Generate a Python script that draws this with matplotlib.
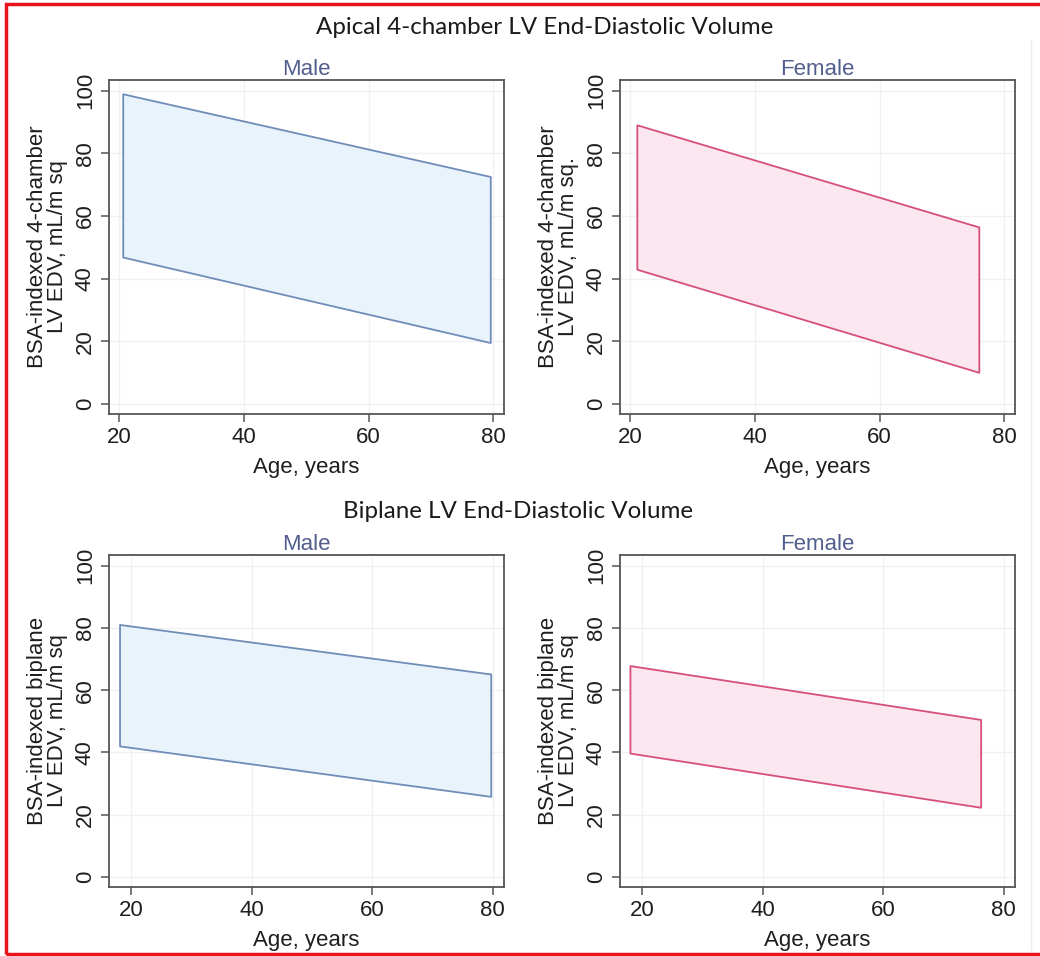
import matplotlib.pyplot as plt
from matplotlib.patches import Rectangle

# reference bands (start and end of each band)
male_4ch_age = [20.6, 79.5]
male_4ch_upper = [99.0, 72.6]
male_4ch_lower = [46.9, 19.6]

female_4ch_age = [21.1, 75.9]
female_4ch_upper = [89.1, 56.5]
female_4ch_lower = [43.0, 10.1]

male_bp_age = [18.1, 79.7]
male_bp_upper = [81.1, 65.2]
male_bp_lower = [42.1, 25.9]

female_bp_age = [18.0, 76.2]
female_bp_upper = [67.9, 50.6]
female_bp_lower = [39.8, 22.4]

x_ticks = [20, 40, 60, 80]
y_ticks = [0, 20, 40, 60, 80, 100]

W, H = 1040, 956
plt.rcParams['font.family'] = ['Liberation Sans', 'DejaVu Sans']

fig = plt.figure(figsize=(W / 100, H / 100), dpi=100)
fig.patch.set_facecolor('white')

BLUE_LINE, BLUE_FILL = '#6f8db8', '#e8f3fb'
PINK_LINE, PINK_FILL = '#d64f7c', '#fce7f0'


def make_axes(left, top, right, bottom):
    return fig.add_axes([left / W, 1 - bottom / H, (right - left) / W, (bottom - top) / H])


def panel(ax, age, lower, upper, line, fill, title, ylabel, xlim):
    ax.fill_between(age, lower, upper, facecolor=fill, edgecolor=line, linewidth=1.3)
    ax.set_xlim(*xlim)
    ax.set_ylim(-3.2, 103.4)
    ax.set_xticks(x_ticks)
    ax.set_yticks(y_ticks)
    ax.grid(True, color='#f0f1f4', linewidth=1.0)
    ax.set_axisbelow(True)
    for s in ax.spines.values():
        s.set_color('#555555')
        s.set_linewidth(1.3)
    ax.tick_params(colors='#555555', labelcolor='#1e1e1e', labelsize=16, length=6, width=1.1)
    for lab in ax.get_yticklabels():
        lab.set_rotation(90)
        lab.set_va('center')
    ax.set_title(title, color='#525e8e', fontsize=16, pad=3)
    ax.set_xlabel('Age, years', fontsize=16, color='#1e1e1e', labelpad=6)
    ax.set_ylabel(ylabel, fontsize=16, color='#1e1e1e', linespacing=0.92, labelpad=5)


ax1 = make_axes(109, 80, 504, 414)
panel(ax1, male_4ch_age, male_4ch_lower, male_4ch_upper, BLUE_LINE, BLUE_FILL, 'Male',
      'BSA-indexed 4-chamber\nLV EDV, mL/m sq', (18.4, 81.7))

ax2 = make_axes(620, 80, 1015, 414)
panel(ax2, female_4ch_age, female_4ch_lower, female_4ch_upper, PINK_LINE, PINK_FILL, 'Female',
      'BSA-indexed 4-chamber\nLV EDV, mL/m sq.', (18.4, 81.7))

ax3 = make_axes(109, 555, 504, 887)
panel(ax3, male_bp_age, male_bp_lower, male_bp_upper, BLUE_LINE, BLUE_FILL, 'Male',
      'BSA-indexed biplane\nLV EDV, mL/m sq', (16.35, 81.9))

ax4 = make_axes(620, 555, 1015, 887)
panel(ax4, female_bp_age, female_bp_lower, female_bp_upper, PINK_LINE, PINK_FILL, 'Female',
      'BSA-indexed biplane\nLV EDV, mL/m sq', (16.35, 81.9))

fig.text(545 / W, 1 - 27 / H, 'Apical 4-chamber LV End-Diastolic Volume', family=['Lato', 'DejaVu Sans'],
         fontsize=17.4, ha='center', va='center', color='#1a1a1a')
fig.text(518 / W, 1 - 512 / H, 'Biplane LV End-Diastolic Volume', family=['Lato', 'DejaVu Sans'],
         fontsize=17.4, ha='center', va='center', color='#1a1a1a')

# faint outer edge of the original graph region
fig.add_artist(plt.Line2D([1031 / W, 1031 / W], [1 - 950 / H, 1 - 40 / H], transform=fig.transFigure,
                          color='#eeeeee', linewidth=1.0))

# red frame around the figure (right edge runs off the image)
fig.patches.append(Rectangle((6 / W, 1 - 954 / H), 1.05, (954 - 4) / H, transform=fig.transFigure,
                             fill=False, edgecolor='#e8141c', linewidth=2.5))

fig.savefig('out.png', dpi=100)
